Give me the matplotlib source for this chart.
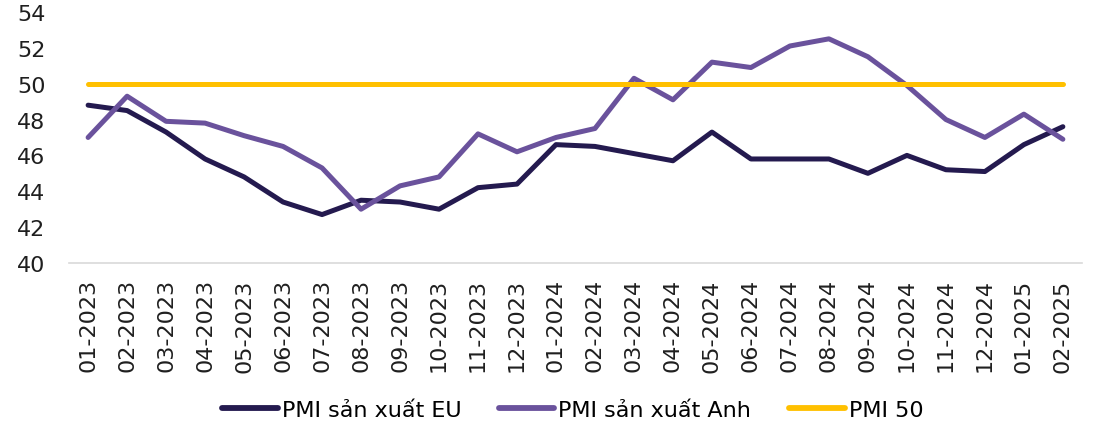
import matplotlib
matplotlib.use("Agg")
import matplotlib.pyplot as plt

plt.rcParams['font.family'] = ['DejaVu Sans']

months = ["01-2023", "02-2023", "03-2023", "04-2023", "05-2023", "06-2023", "07-2023",
          "08-2023", "09-2023", "10-2023", "11-2023", "12-2023", "01-2024", "02-2024",
          "03-2024", "04-2024", "05-2024", "06-2024", "07-2024", "08-2024", "09-2024",
          "10-2024", "11-2024", "12-2024", "01-2025", "02-2025"]
pmi_eu = [48.8, 48.5, 47.3, 45.8, 44.8, 43.4, 42.7, 43.5, 43.4, 43.0, 44.2, 44.4, 46.6,
          46.5, 46.1, 45.7, 47.3, 45.8, 45.8, 45.8, 45.0, 46.0, 45.2, 45.1, 46.6, 47.6]
pmi_uk = [47.0, 49.3, 47.9, 47.8, 47.1, 46.5, 45.3, 43.0, 44.3, 44.8, 47.2, 46.2, 47.0,
          47.5, 50.3, 49.1, 51.2, 50.9, 52.1, 52.5, 51.5, 49.9, 48.0, 47.0, 48.3, 46.9]
pmi_50 = [50.0] * len(months)

fig = plt.figure(figsize=(10.97, 4.31), dpi=100)
ax = fig.add_axes([0.0629, 0.3875, 0.9234, 0.5825])
x = list(range(len(months)))
ax.plot(x, pmi_eu, color="#241a4f", lw=3.6, solid_capstyle="round", solid_joinstyle="round", label="PMI sản xuất EU")
ax.plot(x, pmi_uk, color="#6a529c", lw=3.6, solid_capstyle="round", solid_joinstyle="round", label="PMI sản xuất Anh")
ax.plot(x, pmi_50, color="#ffc000", lw=3.6, solid_capstyle="round", label="PMI 50")

ax.set_ylim(40, 54)
ax.set_yticks(range(40, 55, 2))
ax.set_xlim(-0.49, 25.49)
ax.set_xticks(x)
ax.set_xticklabels(months, rotation=90)
for s in ["top", "right", "left"]:
    ax.spines[s].set_visible(False)
ax.spines["bottom"].set_color("#d9d9d9")
ax.spines["bottom"].set_linewidth(1.2)
ax.tick_params(axis="both", length=0, labelsize=16, colors="#1f1f1f")
ax.tick_params(axis="x", pad=11)
ax.tick_params(axis="y", pad=17)

leg = fig.legend(loc="center", bbox_to_anchor=(0.522, 0.046), ncol=3, frameon=False,
                 fontsize=16, handlelength=2.5, handletextpad=0.18, columnspacing=1.7)
for h in leg.get_lines():
    h.set_linewidth(4.2)
fig.savefig("out.png", dpi=100)
